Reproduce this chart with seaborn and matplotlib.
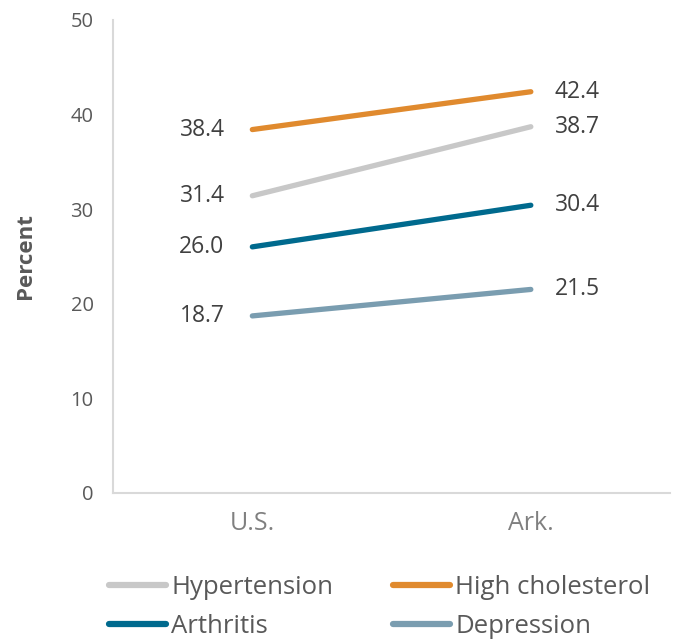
import pandas as pd
import numpy as np
import seaborn as sns
import matplotlib.pyplot as plt

places = ['U.S.', 'Ark.']
conditions = ['Hypertension', 'High cholesterol', 'Arthritis', 'Depression']
hypertension = [31.4, 38.7]
high_cholesterol = [38.4, 42.4]
arthritis = [26.0, 30.4]
depression = [18.7, 21.5]
colors = ['#C8C8C8', '#E08A2E', '#006A8E', '#7A9DB0']

values = [hypertension, high_cholesterol, arthritis, depression]
df = pd.DataFrame({
    'place': places * len(conditions),
    'condition': np.repeat(conditions, len(places)),
    'value': np.concatenate(values),
})

sns.set_style('white')
plt.rcParams['font.family'] = ['Open Sans', 'DejaVu Sans']
grey = '#595959'

fig = plt.figure(figsize=(6.98, 6.40), dpi=100)
ax = fig.add_axes([0.162, 0.23, 0.798, 0.739])
sns.lineplot(data=df, x='place', y='value', hue='condition', hue_order=conditions,
             palette=colors, linewidth=3.8, ax=ax, legend=False, sort=False)

# data labels
for cond, vals in zip(conditions, values):
    ax.annotate(f'{vals[0]:.1f}', (0, vals[0]), xytext=(-20, 0), textcoords='offset points',
                ha='right', va='center', fontsize=16.5, color='#404040')
    ax.annotate(f'{vals[1]:.1f}', (1, vals[1]), xytext=(17, 0), textcoords='offset points',
                ha='left', va='center', fontsize=16.5, color='#404040')

ax.set_xlim(-0.5, 1.5)
ax.set_ylim(0, 50)
ax.set_yticks(range(0, 51, 10))
ax.set_xlabel('')
ax.set_ylabel('Percent', fontsize=16, fontweight='bold', color=grey, labelpad=25)
ax.tick_params(axis='y', labelsize=14.5, colors=grey, length=0, pad=14)
ax.tick_params(axis='x', labelsize=18, colors='#808080', length=0, pad=13)
for s in ['top', 'right']:
    ax.spines[s].set_visible(False)
for s in ['left', 'bottom']:
    ax.spines[s].set_color('#D9D9D9')
    ax.spines[s].set_linewidth(1.5)

# legend, column-wise order
order = [0, 2, 1, 3]
handles = [plt.Line2D([], [], color=colors[i], linewidth=4.5, solid_capstyle='round') for i in order]
labels = [conditions[i] for i in order]
fig.legend(handles, labels, loc='upper left', bbox_to_anchor=(0.142, 0.118), ncol=2,
           frameon=False, fontsize=18.5, handlelength=2.2, handletextpad=0.2,
           columnspacing=2.35, labelspacing=0.55, labelcolor=grey, borderaxespad=0)

fig.savefig('out.png', dpi=100)
